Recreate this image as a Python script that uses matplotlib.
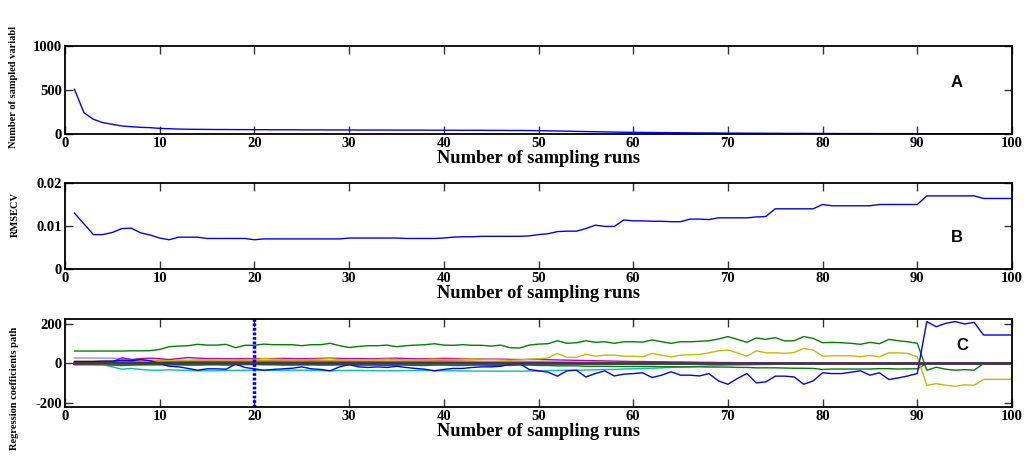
import numpy as np
import matplotlib
matplotlib.use("Agg")
import matplotlib.pyplot as plt

# sampling runs 1..100
runs = np.arange(1, 101)

# A: number of sampled variables per run
n_vars = [508, 242, 167, 129, 110, 91, 83, 76, 72, 64,
          60, 56, 54, 53, 52, 51, 51, 50, 50, 49,
          49, 48, 48, 48, 47, 47, 47, 46, 46, 46,
          45, 45, 45, 45, 44, 44, 44, 44, 43, 43,
          43, 42, 42, 42, 41, 41, 40, 40, 39, 38,
          36, 34, 32, 30, 28, 26, 24, 22, 20, 19,
          18, 17, 16, 15, 14, 13, 12, 12, 11, 10,
          10, 9, 9, 8, 8, 7, 7, 7, 6, 6,
          6, 5, 5, 5, 5, 4, 4, 4, 4, 4,
          3, 3, 3, 3, 3, 3, 3, 2, 2, 2]

# B: RMSECV per run
rmsecv = [.0130, .0105, .0080, .0080, .0085, .0094, .0095, .0084, .0079, .0072,
          .0068, .0074, .0074, .0074, .0071, .0071, .0071, .0071, .0071, .0068,
          .0070, .0070, .0070, .0070, .0070, .0070, .0070, .0070, .0070, .0072,
          .0072, .0072, .0072, .0072, .0072, .0071, .0071, .0071, .0071, .0072,
          .0074, .0075, .0075, .0076, .0076, .0076, .0076, .0076, .0077, .0080,
          .0082, .0087, .0088, .0088, .0094, .0102, .0099, .0099, .0114, .0112,
          .0112, .0111, .0111, .0110, .0110, .0116, .0116, .0115, .0119, .0119,
          .0119, .0119, .0121, .0122, .0140, .0140, .0140, .0140, .0140, .0150,
          .0147, .0147, .0147, .0147, .0147, .0150, .0150, .0150, .0150, .0150,
          .0170, .0170, .0170, .0170, .0170, .0170, .0164, .0164, .0164, .0164]

# C: regression coefficient paths (main ones, every run)
coef_green_top = [63, 63, 63, 63, 63, 63, 64, 64, 65, 71,
                  85, 88, 90, 97, 93, 93, 97, 80, 92, 92,
                  98, 95, 95, 95, 90, 95, 95, 102, 90, 81,
                  86, 90, 90, 93, 85, 90, 93, 95, 100, 93,
                  92, 95, 92, 92, 88, 93, 80, 78, 93, 98,
                  100, 115, 102, 105, 115, 107, 110, 102, 110, 110,
                  108, 119, 110, 102, 110, 110, 112, 115, 124, 136,
                  122, 107, 129, 122, 131, 114, 115, 136, 127, 105,
                  107, 105, 102, 97, 107, 100, 122, 115, 110, 102,
                  -34, -19, -29, -34, -31, -34, 0, 0, 0, 0]
coef_blue = [10, 10, 10, 12, 12, 17, 14, 20, 14, 0,
             -14, -17, -25, -34, -27, -27, -29, -3, -20, -27,
             -34, -30, -27, -24, -17, -27, -30, -37, -17, -5,
             -17, -20, -17, -20, -14, -20, -25, -29, -37, -30,
             -25, -25, -20, -17, -17, -14, -3, 0, -30, -37,
             -44, -64, -37, -34, -68, -51, -37, -63, -54, -51,
             -47, -71, -59, -42, -59, -59, -63, -51, -88, -105,
             -76, -51, -98, -93, -64, -64, -68, -105, -88, -47,
             -51, -51, -44, -37, -59, -47, -81, -73, -63, -51,
             212, 186, 203, 212, 200, 208, 144, 144, 144, 144]
coef_yellow = [0, -3, -3, -5, -3, 2, 5, 8, 10, 12,
               14, 15, 16, 18, 18, 17, 16, 18, 20, 20,
               25, 22, 20, 18, 18, 20, 22, 24, 20, 18,
               18, 20, 20, 22, 20, 18, 18, 20, 22, 20,
               20, 22, 24, 22, 20, 18, 16, 18, 22, 24,
               28, 51, 31, 31, 47, 37, 42, 42, 37, 37,
               34, 51, 42, 34, 42, 44, 46, 54, 64, 68,
               54, 37, 64, 54, 54, 51, 56, 76, 68, 37,
               39, 39, 39, 34, 41, 34, 54, 54, 51, 34,
               -110, -102, -110, -115, -108, -110, -80, -80, -80, -80]
coef_green_low = [-5, -5, -5, -6, -8, -10, -8, -6, -5, -5,
                  -5, -6, -8, -8, -6, -6, -8, -6, -5, -5,
                  -6, -6, -8, -8, -6, -6, -8, -8, -6, -6,
                  -8, -8, -8, -10, -8, -8, -10, -10, -8, -8,
                  -10, -10, -8, -8, -10, -10, -10, -8, -8, -10,
                  -10, -12, -12, -12, -14, -14, -14, -15, -15, -15,
                  -15, -15, -16, -16, -17, -17, -17, -18, -18, -18,
                  -20, -20, -22, -22, -22, -23, -24, -24, -25, -30,
                  -28, -28, -28, -28, -28, -26, -26, -28, -27, -27,
                  0, 0, 0, 0, 0, 0, 0, 0, 0, 0]
coef_cyan = [-5, -5, -5, -5, -17, -29, -25, -30, -34, -34,
             -32, -34, -35, -37, -37, -37, -35, -35, -34, -34,
             -35, -35, -35, -34, -34, -35, -36, -37, -36, -35,
             -35, -36, -37, -37, -37, -36, -36, -35, -36, -37,
             -37, -38, -38, -38, -39, -39, -39, -39, -38, -38,
             -36, -35, -34, -34, -33, -32, -30, -30, -28, -27,
             -25, -24, -22, -20, -18, -16, -14, -12, -10, -8,
             -8, -7, -6, -5, -4, -3, -2, -2, -1, 0,
             0, 0, 0, 0, 0, 0, 0, 0, 0, 0,
             0, 0, 0, 0, 0, 0, 0, 0, 0, 0]
coef_magenta = [5, 5, 6, 6, 8, 29, 20, 25, 27, 24,
                20, 25, 30, 27, 25, 25, 24, 24, 25, 25,
                25, 25, 26, 25, 24, 25, 26, 27, 26, 25,
                25, 24, 25, 26, 27, 25, 24, 24, 25, 26,
                25, 25, 24, 23, 22, 22, 21, 20, 20, 20,
                19, 18, 17, 16, 15, 14, 13, 12, 11, 10,
                10, 9, 9, 8, 8, 7, 6, 6, 5, 5,
                4, 4, 3, 3, 2, 2, 1, 1, 1, 0,
                0, 0, 0, 0, 0, 0, 0, 0, 0, 0,
                0, 0, 0, 0, 0, 0, 0, 0, 0, 0]

# C: smaller coefficients, read at fewer runs
small_runs = [1, 5, 10, 15, 20, 25, 30, 35, 40, 45, 50, 55, 60, 65, 70, 75, 80, 100]
small_coefs = [
    [3, 5, 8, 10, 12, 10, 8, 10, 12, 10, 8, 6, 4, 3, 2, 1, 0, 0],
    [-2, -3, -5, -4, -3, -5, -4, -3, -5, -4, -3, -2, -2, -1, -1, 0, 0, 0],
    [-8, -10, -10, -8, -6, -8, -10, -8, -6, -8, -6, -4, -3, -2, -1, 0, 0, 0],
    [2, 4, 6, 5, 4, 6, 5, 4, 6, 4, 3, 2, 2, 1, 1, 0, 0, 0],
    [28, 27, 10, 8, 6, 5, 6, 5, 4, 4, 3, 3, 2, 2, 1, 1, 0, 0],
    [0, 2, 4, 3, 5, 4, 6, 5, 4, 3, 2, 2, 1, 1, 0, 0, 0, 0],
    [-3, -4, -6, -5, -4, -6, -5, -4, -3, -3, -2, -2, -1, -1, 0, 0, 0, 0],
    [8, 10, 15, 14, 12, 14, 12, 10, 12, 8, 6, 4, 3, 2, 1, 1, 0, 0],
    [5, 6, 4, 6, 5, 7, 6, 5, 4, 3, 2, 2, 1, 1, 0, 0, 0, 0],
    [12, 14, 16, 15, 14, 12, 14, 13, 12, 10, 8, 6, 4, 3, 2, 1, 0, 0],
]
small_colors = ['#ff0000', '#404040', '#bfbf00', '#008000', '#7070ff',
                '#bf00bf', '#00bfbf', '#ff0000', '#404040', '#bfbf00']
coef_dark = [0, 1, 2, 2, 1, 2, 1, 1, 2, 1, 1, 0, 0, 0, 0, 0, 0, 0]
best_run = 20

plt.rcParams['font.family'] = ['Liberation Serif', 'DejaVu Serif']
plt.rcParams['font.weight'] = 'bold'
plt.rcParams['axes.unicode_minus'] = False

W, H = 1030, 459
fig = plt.figure(figsize=(W / 100, H / 100), dpi=100)


def px_axes(left, top, right, bottom):
    return fig.add_axes([left / W, 1 - bottom / H, (right - left) / W, (bottom - top) / H])


def style(ax):
    ax.set_xlim(0, 100)
    ax.set_xticks(range(0, 101, 10))
    ax.tick_params(direction='in', length=6, width=1, top=True, right=True,
                   labelsize=10.5, pad=2, color='#333333')
    for lab in ax.get_xticklabels() + ax.get_yticklabels():
        lab.set_fontweight('bold')
    for s in ax.spines.values():
        s.set_linewidth(1.3)
    ax.set_xlabel('Number of sampling runs', fontsize=13.3, fontweight='bold', labelpad=0)


def tag(ax, text, x, y):
    ax.text(x, y, text, transform=ax.transAxes, fontsize=12, fontweight='bold',
            family='Liberation Sans', ha='center', va='center')


# panel A
axA = px_axes(65, 46, 1012, 134)
axA.plot(runs, n_vars, color='b', lw=1)
axA.set_ylim(0, 1000)
axA.set_yticks([0, 500, 1000])
style(axA)
tag(axA, 'A', 0.942, 0.59)

# panel B
axB = px_axes(65, 183, 1012, 269)
axB.plot(runs, rmsecv, color='b', lw=1)
axB.set_ylim(0, 0.02)
axB.set_yticks([0, 0.01, 0.02])
axB.set_yticklabels(['0', '0.01', '0.02'])
style(axB)
tag(axB, 'B', 0.942, 0.37)

# panel C
axC = px_axes(65, 319, 1012, 407)
for vals, col in zip(small_coefs, small_colors):
    axC.plot(small_runs, vals, color=col, lw=1, alpha=0.8)
axC.plot(runs, coef_cyan, color='#00bfbf', lw=1)
axC.plot(runs, coef_magenta, color='#bf00bf', lw=1)
axC.plot(runs, coef_green_low, color='#008000', lw=1)
axC.plot(runs, coef_yellow, color='#bfbf00', lw=1)
axC.plot(runs, coef_green_top, color='#008000', lw=1)
axC.plot(runs, coef_blue, color='#0000ff', lw=1)
axC.plot(small_runs, coef_dark, color='#4a3350', lw=2)
axC.axvline(best_run, color='b', lw=2.5, ls=(0, (0.8, 0.5)))
axC.set_ylim(-220, 225)
axC.set_yticks([-200, 0, 200])
style(axC)
tag(axC, 'C', 0.948, 0.70)

# y labels placed like the original
fig.text(14 / W, 1 - 148 / H, 'Number of sampled variabl', rotation=90, fontsize=7.5,
         fontweight='bold', ha='center', va='bottom')
fig.text(15 / W, 1 - 214 / H, 'RMSECV', rotation=90, fontsize=7.5,
         fontweight='bold', ha='center', va='center')
fig.text(15 / W, 1 - 388 / H, 'Regression coefficients path', rotation=90, fontsize=7.5,
         fontweight='bold', ha='center', va='center')

fig.savefig('out.png', dpi=100)
